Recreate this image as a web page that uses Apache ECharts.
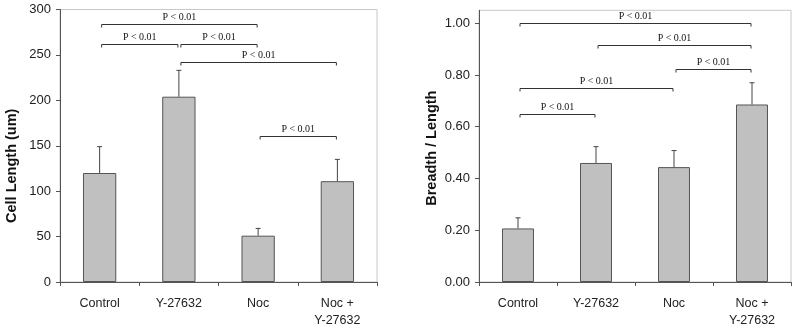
<!DOCTYPE html>
<html>
<head>
<meta charset="UTF-8" />
<title>Cell length and breadth/length</title>
<style>
  html, body { margin: 0; padding: 0; background: #fff; }
  #chart { width: 800px; height: 329px; }
</style>
</head>
<body>
<div id="chart"></div>
<script src="https://cdn.jsdelivr.net/npm/echarts@6/dist/echarts.min.js"></script>
<script>
const categories = ['Control', 'Y-27632', 'Noc', 'Noc +\nY-27632'];

// left panel: cell length (um)
const lengthMean = [120, 204, 51, 111];
const lengthErr = [149, 233, 59, 135];          // top of error bar
const lengthTicks = [0, 50, 100, 150, 200, 250, 300];
// [from category, to category, bracket height]
const lengthBrackets = [
  [0, 2, 284],
  [0, 1, 262],
  [1, 2, 262],
  [1, 3, 242],
  [2, 3, 161]
];

// right panel: breadth / length
const ratioMean = [0.207, 0.46, 0.444, 0.686];
const ratioErr = [0.248, 0.523, 0.508, 0.77];
const ratioTicks = [0, 0.2, 0.4, 0.6, 0.8, 1.0];
const ratioBrackets = [
  [0, 3, 1.0],
  [1, 3, 0.915],
  [2, 3, 0.824],
  [0, 2, 0.751],
  [0, 1, 0.651]
];

const sigText = 'P < 0.01';
const sans = 'Liberation Sans, Arial, sans-serif';

function errorSeries(tops, means, idx) {
  return {
    type: 'custom',
    xAxisIndex: idx, yAxisIndex: idx,
    z: 3,
    data: tops.map((t, i) => [i, means[i], t]),
    renderItem: (params, api) => {
      const base = api.coord([api.value(0), api.value(1)]);
      const top = api.coord([api.value(0), api.value(2)]);
      const st = { stroke: '#444', lineWidth: 1 };
      return {
        type: 'group',
        children: [
          { type: 'line', shape: { x1: base[0], y1: base[1], x2: top[0], y2: top[1] }, style: st },
          { type: 'line', shape: { x1: top[0] - 2.5, y1: top[1], x2: top[0] + 2.5, y2: top[1] }, style: st }
        ]
      };
    }
  };
}

function bracketSeries(brackets, idx) {
  return {
    type: 'custom',
    xAxisIndex: idx, yAxisIndex: idx,
    z: 4,
    clip: false,
    data: brackets,
    renderItem: (params, api) => {
      const a = api.coord([api.value(0), api.value(2)]);
      const b = api.coord([api.value(1), api.value(2)]);
      const x1 = a[0] + 2, x2 = b[0] - 1, y = Math.round(a[1]) + 0.5;
      const st = { stroke: '#333', lineWidth: 1 };
      return {
        type: 'group',
        children: [
          { type: 'polyline', shape: { points: [[x1, y + 3], [x1, y], [x2, y], [x2, y + 3]] }, style: Object.assign({ fill: null }, st) },
          { type: 'text', x: (x1 + x2) / 2, y: y - 2, style: {
              text: sigText, fill: '#111', font: '10px "Liberation Serif", serif',
              textAlign: 'center', textVerticalAlign: 'bottom' } }
        ]
      };
    }
  };
}

const axisLineStyle = { lineStyle: { color: '#555', width: 1 } };

function xAxis(idx) {
  return {
    type: 'category', gridIndex: idx, data: categories,
    axisLine: axisLineStyle,
    axisTick: { show: true, length: 4, lineStyle: { color: '#555' } },
    axisLabel: { color: '#222', fontSize: 12.5, fontFamily: sans, margin: 13, lineHeight: 17 }
  };
}

const chart = echarts.init(document.getElementById('chart'));
chart.setOption({
  animation: false,
  backgroundColor: '#fff',
  grid: [
    { left: 60, right: 423, top: 9.5, bottom: 46, show: true, borderColor: '#c8c8c8', borderWidth: 1 },
    { left: 479, right: 9, top: 10.3, bottom: 46, show: true, borderColor: '#c8c8c8', borderWidth: 1 }
  ],
  xAxis: [xAxis(0), xAxis(1)],
  yAxis: [
    {
      type: 'value', gridIndex: 0, min: 0, max: 300, interval: 50,
      name: 'Cell Length (um)', nameLocation: 'middle', nameGap: 41,
      nameTextStyle: { fontSize: 14.5, fontWeight: 'bold', color: '#111', fontFamily: sans, padding: [0, 40, 0, 0] },
      axisLine: Object.assign({ show: true }, axisLineStyle),
      axisTick: { show: true, length: 4, lineStyle: { color: '#555' }, customValues: lengthTicks },
      axisLabel: { color: '#222', fontSize: 13, fontFamily: sans, margin: 9, customValues: lengthTicks },
      splitLine: { show: false }
    },
    {
      type: 'value', gridIndex: 1, min: 0, max: 1.05,
      name: 'Breadth / Length', nameLocation: 'middle', nameGap: 40,
      nameTextStyle: { fontSize: 14.5, fontWeight: 'bold', color: '#111', fontFamily: sans, padding: [0, 4, 0, 0] },
      axisLine: Object.assign({ show: true }, axisLineStyle),
      axisTick: { show: true, length: 4, lineStyle: { color: '#555' }, customValues: ratioTicks },
      axisLabel: { color: '#222', fontSize: 13, fontFamily: sans, margin: 9,
        customValues: ratioTicks, formatter: v => v.toFixed(2) },
      splitLine: { show: false }
    }
  ],
  series: [
    {
      type: 'bar', xAxisIndex: 0, yAxisIndex: 0, data: lengthMean, barWidth: '42%',
      itemStyle: { color: '#c0c0c0', borderColor: '#555', borderWidth: 1 }
    },
    errorSeries(lengthErr, lengthMean, 0),
    bracketSeries(lengthBrackets, 0),
    {
      type: 'bar', xAxisIndex: 1, yAxisIndex: 1, data: ratioMean, barWidth: '41%',
      itemStyle: { color: '#c0c0c0', borderColor: '#555', borderWidth: 1 }
    },
    errorSeries(ratioErr, ratioMean, 1),
    bracketSeries(ratioBrackets, 1)
  ]
});
</script>
</body>
</html>
